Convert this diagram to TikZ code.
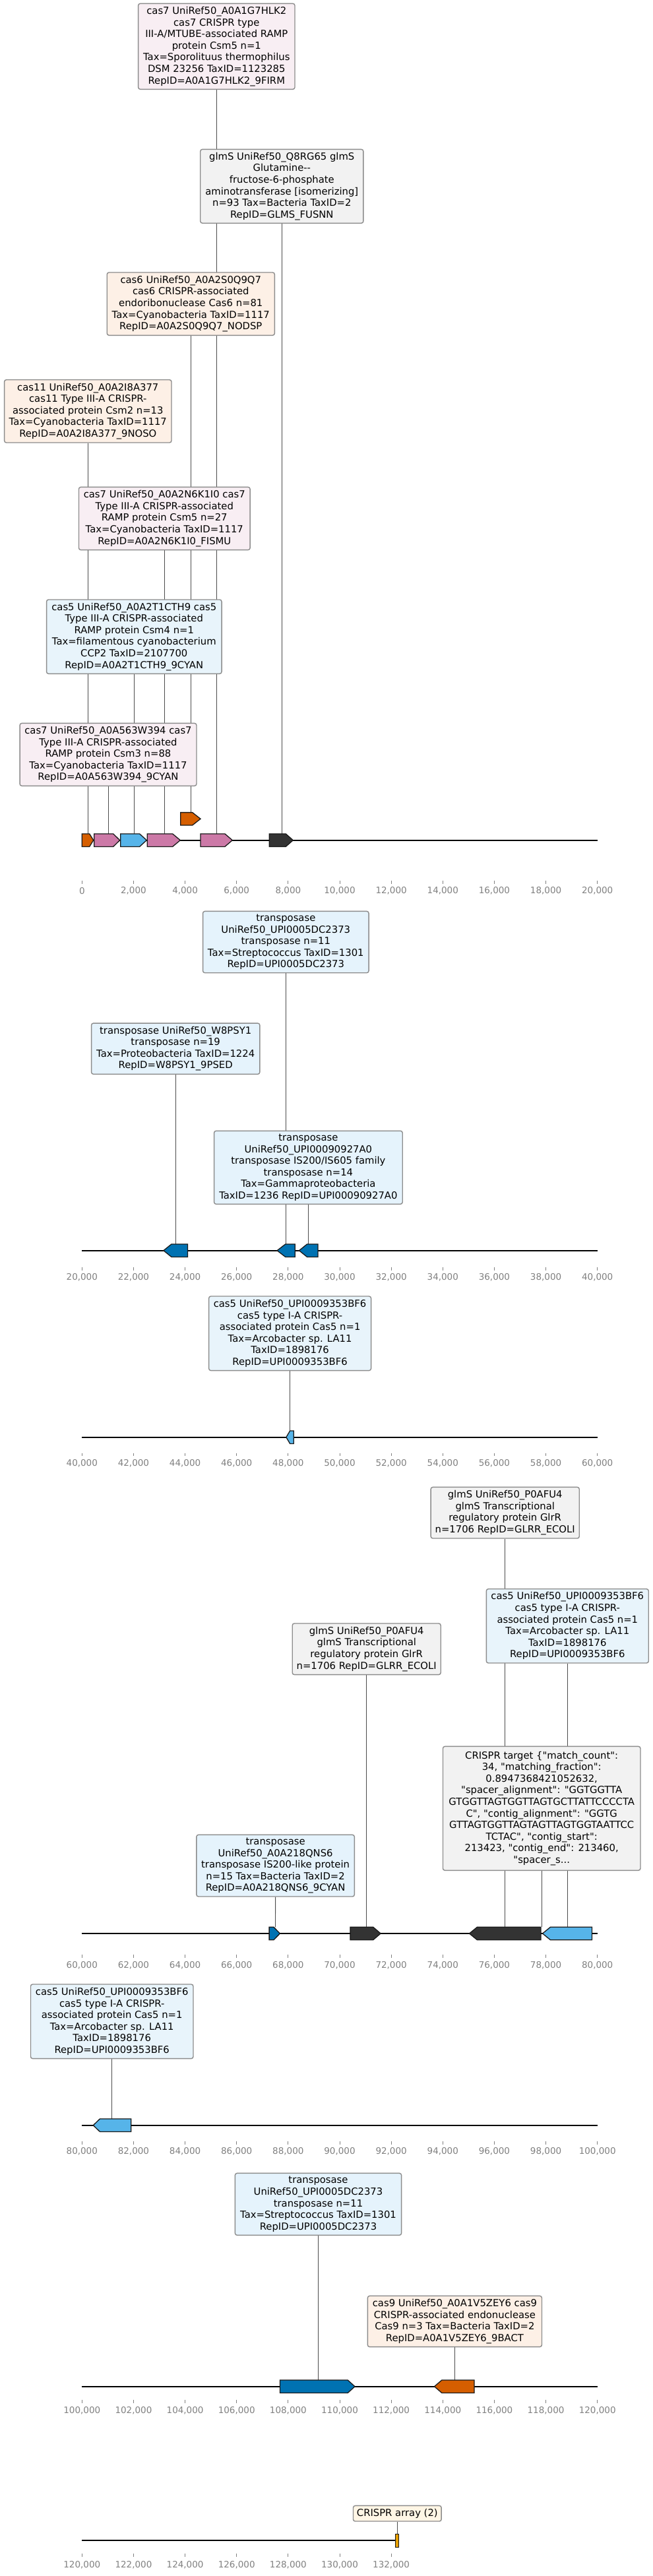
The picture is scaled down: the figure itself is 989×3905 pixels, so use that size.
\documentclass[tikz,border=0pt]{standalone}
\usepackage{fontspec}
\setmainfont{DejaVu Sans}[Ligatures=TeXOff]
\pgfdeclarelayer{back}
\pgfsetlayers{back,main}
\definecolor{cpink}{HTML}{CC79A7}
\definecolor{csky}{HTML}{56B4E9}
\definecolor{cverm}{HTML}{D55E00}
\definecolor{cdblue}{HTML}{0072B2}
\definecolor{cdark}{HTML}{333333}
\definecolor{corange}{HTML}{E69F00}
\definecolor{fpink}{HTML}{F8EEF3}
\definecolor{fpeach}{HTML}{FDF0E6}
\definecolor{fgray}{HTML}{F2F2F2}
\definecolor{fsky}{HTML}{E8F4FB}
\definecolor{fdblue}{HTML}{E5F3FC}
\definecolor{fcream}{HTML}{FFF6E5}
\definecolor{bordergray}{HTML}{8C8C8C}
\definecolor{tickgray}{HTML}{808080}
\tikzset{
  lbl/.style={draw=bordergray, line width=1.4pt, rounded corners=3pt, align=center,
    inner xsep=3pt, inner ysep=2pt, font=\fontsize{14.8}{17.6}\selectfont, text=black},
  gene/.style={draw=black!90, line width=1.3pt, line join=miter},
  track/.style={line width=2.2pt, black},
  leader/.style={line width=0.9pt, black!70},
  tickmark/.style={line width=0.9pt, tickgray},
  ticklbl/.style={font=\fontsize{13.5}{16}\selectfont, text=tickgray, inner sep=0pt},
}
% #1 name, #2 left x, #3 right x (tip), #4 tip start, #5 mid y, #6 colour, #7 leader x
\newcommand{\geneR}[7]{%
  \filldraw[gene,fill=#6] (#2,#5-9.7) -- (#4,#5-9.7) -- (#3,#5) -- (#4,#5+9.7) -- (#2,#5+9.7) -- cycle;
  \coordinate (#1) at (#7,#5-9.7);}
% #2 tip x (left), #3 right x, #4 tip start
\newcommand{\geneL}[7]{%
  \filldraw[gene,fill=#6] (#2,#5) -- (#4,#5-9.7) -- (#3,#5-9.7) -- (#3,#5+9.7) -- (#4,#5+9.7) -- cycle;
  \coordinate (#1) at (#7,#5-9.7);}
% #1 prefix, #2 tick top y, #3 label y, #4 start (thousands), #5 last index
\newcommand{\trackticks}[5]{%
  \foreach \k in {0,...,#5} {
    \pgfmathsetmacro\tkx{124.3+78.14*\k}
    \pgfmathtruncatemacro\tknum{#4+2*\k}
    \draw[tickmark] (\tkx,#2) -- (\tkx,#2+4.7);
    \node[ticklbl] (#1-\k) at (\tkx,#3) {\ifnum\tknum=0 0\else\tknum,000\fi};
  }}
\begin{document}
\begin{tikzpicture}[x=1pt,y=-1pt]
\useasboundingbox (0,0) rectangle (989,3905);

% ---------------- track 1 ----------------
\draw[track] (124.3,1273.7) -- (905.7,1273.7);
\geneR{g1a}{124.3}{141.7}{135.7}{1273.7}{cverm}{133.3}
\geneR{g1b}{142.7}{181.7}{171.7}{1273.7}{cpink}{164}
\geneR{g1c}{182.7}{222.3}{211.7}{1273.7}{csky}{203.3}
\geneR{g1d}{223.3}{273.3}{261.7}{1273.7}{cpink}{249.3}
\geneR{g1e}{304}{352.3}{341}{1273.7}{cpink}{328.3}
\geneR{g1f}{408.3}{444.3}{433.3}{1273.7}{cdark}{427.3}
\geneR{g1u}{273.7}{304}{291.7}{1241.3}{cverm}{289.3}
\trackticks{t1}{1335.3}{1350.7}{0}{10}

% ---------------- track 2 ----------------
\draw[track] (124.3,1895.7) -- (905.7,1895.7);
\geneL{g2a}{247.9}{284.5}{259.9}{1895.7}{cdblue}{266.2}
\geneL{g2b}{420.1}{447.2}{432.7}{1895.7}{cdblue}{433.3}
\geneL{g2c}{453.5}{481.9}{465.5}{1895.7}{cdblue}{467.4}
\trackticks{t2}{1921}{1936}{20}{10}

% ---------------- track 3 ----------------
\draw[track] (124.3,2178.7) -- (905.7,2178.7);
\geneL{g3a}{433.9}{445.3}{439.6}{2178.7}{csky}{439.6}
\trackticks{t3}{2202.7}{2218}{40}{10}

% ---------------- track 4 ----------------
\draw[track] (124.3,2931) -- (905.7,2931);
\geneR{g4a}{408.1}{424.5}{415}{2931}{cdblue}{417.5}
\geneR{g4b}{531.1}{577.1}{565.8}{2931}{cdark}{555.7}
\geneL{g4c}{711.5}{819.9}{723.4}{2931}{cdark}{765.7}
\geneL{g4d}{822.5}{897.5}{834.4}{2931}{csky}{860.3}
\coordinate (ct) at (821.2,2921.3);
\trackticks{t4}{2963}{2979.3}{60}{10}

% ---------------- track 5 ----------------
\draw[track] (124.3,3221.7) -- (905.7,3221.7);
\geneL{g5a}{141.3}{198.7}{151.4}{3221.7}{csky}{169.7}
\trackticks{t5}{3246}{3261}{80}{10}

% ---------------- track 6 ----------------
\draw[track] (124.3,3617.7) -- (905.7,3617.7);
\geneR{g6a}{424.5}{538}{527.3}{3617.7}{cdblue}{482.5}
\geneL{g6b}{658.5}{719}{669.8}{3617.7}{cverm}{689.4}
\trackticks{t6}{3638.3}{3654}{100}{10}

% ---------------- track 7 ----------------
\draw[track] (124.3,3851) -- (601.1,3851);
\filldraw[gene, fill=corange, line width=1pt] (599.8,3841) rectangle (604.2,3861);
\coordinate (ca) at (602.3,3841);
\trackticks{t7}{3871.3}{3888.3}{120}{6}

% ---------------- labels ----------------
\node[lbl, fill=fpink, minimum width=237.4pt, minimum height=129.9pt] (b1) at (328.3,70.35)
 {cas7 UniRef50\_A0A1G7HLK2\\cas7 CRISPR type\\III-A/MTUBE-associated RAMP\\protein Csm5 n=1\\Tax=Sporolituus thermophilus\\DSM 23256 TaxID=1123285\\RepID=A0A1G7HLK2\_9FIRM};
\node[lbl, fill=fgray, minimum width=247.1pt, minimum height=111.9pt] (b2) at (427.3,282.35)
 {glmS UniRef50\_Q8RG65 glmS\\Glutamine--\\fructose-6-phosphate\\aminotransferase [isomerizing]\\n=93 Tax=Bacteria TaxID=2\\RepID=GLMS\_FUSNN};
\node[lbl, fill=fpeach, minimum width=254.1pt, minimum height=95.3pt] (b3) at (289.3,460.65)
 {cas6 UniRef50\_A0A2S0Q9Q7\\cas6 CRISPR-associated\\endoribonuclease Cas6 n=81\\Tax=Cyanobacteria TaxID=1117\\RepID=A0A2S0Q9Q7\_NODSP};
\node[lbl, fill=fpeach, minimum width=253.4pt, minimum height=95.3pt] (b4) at (133.3,623.35)
 {cas11 UniRef50\_A0A2I8A377\\cas11 Type III-A CRISPR-\\associated protein Csm2 n=13\\Tax=Cyanobacteria TaxID=1117\\RepID=A0A2I8A377\_9NOSO};
\node[lbl, fill=fpink, minimum width=259.7pt, minimum height=95.2pt] (b5) at (249.3,786)
 {cas7 UniRef50\_A0A2N6K1I0 cas7\\Type III-A CRISPR-associated\\RAMP protein Csm5 n=27\\Tax=Cyanobacteria TaxID=1117\\RepID=A0A2N6K1I0\_FISMU};
\node[lbl, fill=fsky, minimum width=265.5pt, minimum height=112.3pt] (b6) at (203.3,965.15)
 {cas5 UniRef50\_A0A2T1CTH9 cas5\\Type III-A CRISPR-associated\\RAMP protein Csm4 n=1\\Tax=filamentous cyanobacterium\\CCP2 TaxID=2107700\\RepID=A0A2T1CTH9\_9CYAN};
\node[lbl, fill=fpink, minimum width=267.9pt, minimum height=94.9pt] (b7) at (164,1143.85)
 {cas7 UniRef50\_A0A563W394 cas7\\Type III-A CRISPR-associated\\RAMP protein Csm3 n=88\\Tax=Cyanobacteria TaxID=1117\\RepID=A0A563W394\_9CYAN};
\node[lbl, fill=fdblue, minimum width=251.5pt, minimum height=93.3pt] (b8) at (433.3,1428.05)
 {transposase\\UniRef50\_UPI0005DC2373\\transposase n=11\\Tax=Streptococcus TaxID=1301\\RepID=UPI0005DC2373};
\node[lbl, fill=fdblue, minimum width=255.3pt, minimum height=77.2pt] (b9) at (266.2,1589.7)
 {transposase UniRef50\_W8PSY1\\transposase n=19\\Tax=Proteobacteria TaxID=1224\\RepID=W8PSY1\_9PSED};
\node[lbl, fill=fdblue, minimum width=285.6pt, minimum height=111pt] (b10) at (467.4,1769.8)
 {transposase\\UniRef50\_UPI00090927A0\\transposase IS200/IS605 family\\transposase n=14\\Tax=Gammaproteobacteria\\TaxID=1236 RepID=UPI00090927A0};
\node[lbl, fill=fsky, minimum width=245.9pt, minimum height=112.6pt] (b11) at (439.6,2021.3)
 {cas5 UniRef50\_UPI0009353BF6\\cas5 type I-A CRISPR-\\associated protein Cas5 n=1\\Tax=Arcobacter sp. LA11\\TaxID=1898176\\RepID=UPI0009353BF6};
\node[lbl, fill=fgray, minimum width=225.1pt, minimum height=77.6pt] (b12) at (765.7,2293.2)
 {glmS UniRef50\_P0AFU4\\glmS Transcriptional\\regulatory protein GlrR\\n=1706 RepID=GLRR\_ECOLI};
\node[lbl, fill=fsky, minimum width=245.9pt, minimum height=112.3pt] (b13) at (860.3,2464.85)
 {cas5 UniRef50\_UPI0009353BF6\\cas5 type I-A CRISPR-\\associated protein Cas5 n=1\\Tax=Arcobacter sp. LA11\\TaxID=1898176\\RepID=UPI0009353BF6};
\node[lbl, fill=fgray, minimum width=225pt, minimum height=77.6pt] (b14) at (555.7,2499.8)
 {glmS UniRef50\_P0AFU4\\glmS Transcriptional\\regulatory protein GlrR\\n=1706 RepID=GLRR\_ECOLI};
\node[lbl, fill=fgray, minimum width=299.5pt, minimum height=187.9pt] (b15) at (821.2,2741.35)
 {CRISPR target \{"match\_count":\\34, "matching\_fraction":\\0.8947368421052632,\\"spacer\_alignment": "GGTGGTTA\\GTGGTTAGTGGTTAGTGCTTATTCCCCTA\\C", "contig\_alignment": "GGTG\\GTTAGTGGTTAGTAGTTAGTGGTAATTCC\\TCTAC", "contig\_start":\\213423, "contig\_end": 213460,\\"spacer\_s...};
\node[lbl, fill=fdblue, minimum width=239.5pt, minimum height=93.6pt] (b16) at (417.6,2828.2)
 {transposase\\UniRef50\_A0A218QNS6\\transposase IS200-like protein\\n=15 Tax=Bacteria TaxID=2\\RepID=A0A218QNS6\_9CYAN};
\node[lbl, fill=fsky, minimum width=246.5pt, minimum height=112.6pt] (b17) at (169.7,3064.3)
 {cas5 UniRef50\_UPI0009353BF6\\cas5 type I-A CRISPR-\\associated protein Cas5 n=1\\Tax=Arcobacter sp. LA11\\TaxID=1898176\\RepID=UPI0009353BF6};
\node[lbl, fill=fdblue, minimum width=252.2pt, minimum height=93.9pt] (b18) at (482.5,3341.35)
 {transposase\\UniRef50\_UPI0005DC2373\\transposase n=11\\Tax=Streptococcus TaxID=1301\\RepID=UPI0005DC2373};
\node[lbl, fill=fpeach, minimum width=264.1pt, minimum height=77.2pt] (b19) at (689.4,3519)
 {cas9 UniRef50\_A0A1V5ZEY6 cas9\\CRISPR-associated endonuclease\\Cas9 n=3 Tax=Bacteria TaxID=2\\RepID=A0A1V5ZEY6\_9BACT};
\node[lbl, fill=fcream, minimum width=133.7pt, minimum height=23.6pt] (b20) at (602.3,3810.2)
 {CRISPR array (2)};

% ---------------- leaders ----------------
\begin{pgfonlayer}{back}
\foreach \b/\g in {b1/g1e, b2/g1f, b3/g1u, b4/g1a, b5/g1d, b6/g1c, b7/g1b,
  b8/g2b, b9/g2a, b10/g2c, b11/g3a, b12/g4c, b13/g4d, b14/g4b, b15/ct, b16/g4a,
  b17/g5a, b18/g6a, b19/g6b, b20/ca}
  \draw[leader] (\b.south) -- (\g);
\end{pgfonlayer}
\end{tikzpicture}
\end{document}
